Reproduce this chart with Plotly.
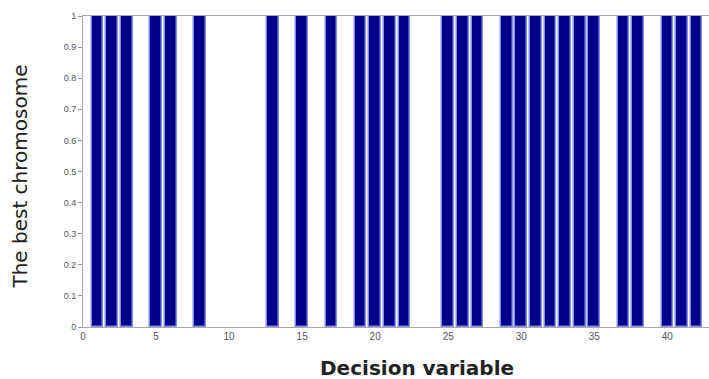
import plotly.graph_objects as go

decision_variable = list(range(1, 43))
ones = {1, 2, 3, 5, 6, 8, 13, 15, 17, 19, 20, 21, 22, 25, 26, 27,
        29, 30, 31, 32, 33, 34, 35, 37, 38, 40, 41, 42}
best_chromosome = [1 if v in ones else 0 for v in decision_variable]
x_ticks = [0, 5, 10, 15, 20, 25, 30, 35, 40]
y_ticks = [0, 0.1, 0.2, 0.3, 0.4, 0.5, 0.6, 0.7, 0.8, 0.9, 1]
y_tick_labels = ["0", "0.1", "0.2", "0.3", "0.4", "0.5", "0.6", "0.7", "0.8", "0.9", "1"]

# only non-zero genes produce a visible bar
bx = [v for v, b in zip(decision_variable, best_chromosome) if b]
by = [b for b in best_chromosome if b]

fig = go.Figure(go.Bar(
    x=bx, y=by, width=0.8,
    marker=dict(color="#00008B", line=dict(color="#7f8ee6", width=1.5)),
))

fig.update_layout(
    width=709, height=379,
    margin=dict(l=83, r=0, t=16, b=52),
    paper_bgcolor="white", plot_bgcolor="white",
    showlegend=False, bargap=0,
    font=dict(family="Arial, Liberation Sans, sans-serif", color="#444"),
    annotations=[
        dict(text="<b>Decision variable</b>", xref="paper", yref="paper",
             x=0.533, y=-0.132, xanchor="center", yanchor="middle", showarrow=False,
             font=dict(family="DejaVu Sans", size=20, color="#222")),
        dict(text="The best chromosome", xref="paper", yref="paper",
             x=-0.1, y=0.485, xanchor="center", yanchor="middle", showarrow=False,
             textangle=-90,
             font=dict(family="DejaVu Sans", size=20, color="#222")),
    ],
)
fig.update_xaxes(
    range=[0, 42.85], tickvals=x_ticks, ticktext=[str(t) for t in x_ticks],
    showgrid=False, zeroline=False, showline=True, linecolor="#aaa", linewidth=1,
    mirror=True, ticks="", tickfont=dict(size=10, color="#555"), automargin=False,
)
fig.update_yaxes(
    range=[0, 1], tickvals=y_ticks, ticktext=y_tick_labels,
    showgrid=False, zeroline=False, showline=True, linecolor="#aaa", linewidth=1,
    mirror=True, ticks="outside", ticklen=4, tickcolor="#999",
    tickfont=dict(size=9, color="#555"), automargin=False,
)

fig.write_html("out.html", config={"displayModeBar": False},
               post_script="document.body.style.margin='0';")
